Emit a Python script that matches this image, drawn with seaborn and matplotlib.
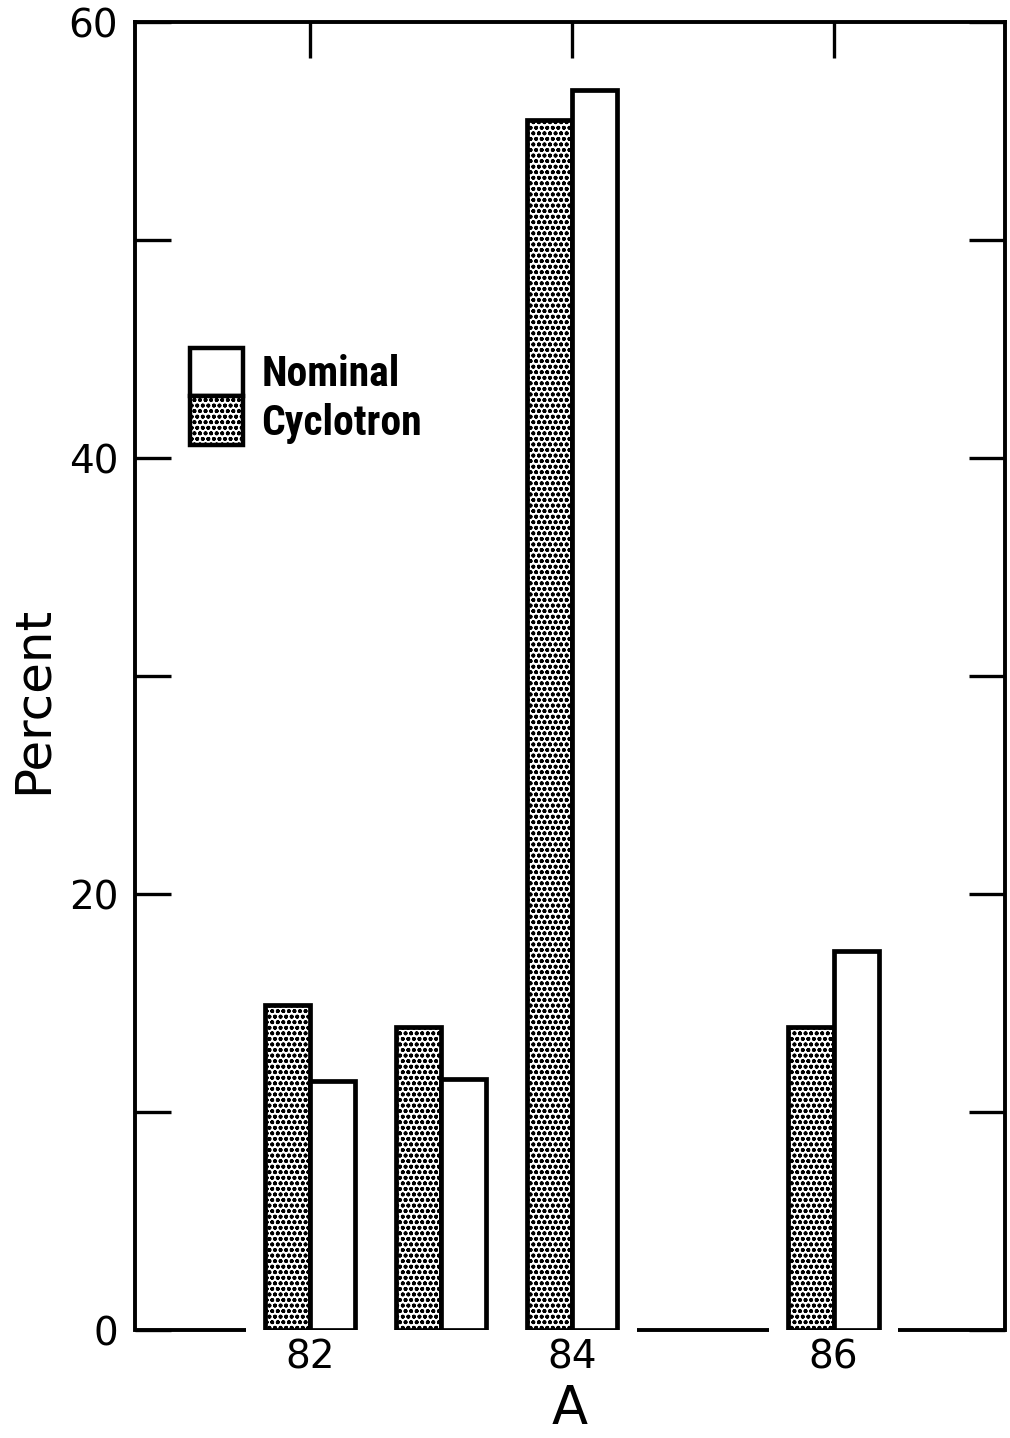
import pandas as pd
import seaborn as sns
import matplotlib.pyplot as plt
from matplotlib.patches import Patch

# --- data ---
mass_number = [82, 83, 84, 86]
cyclotron_pct = [14.9, 13.9, 55.5, 13.9]
nominal_pct = [11.4, 11.5, 56.9, 17.4]
y_major = [0, 20, 40, 60]
y_minor = [10, 30, 50]
x_labelled = [82, 84, 86]

df = pd.DataFrame({
    "A": mass_number * 2,
    "Percent": cyclotron_pct + nominal_pct,
    "source": ["Cyclotron"] * len(mass_number) + ["Nominal"] * len(mass_number),
})

sns.set_style("ticks", {"axes.edgecolor": "black", "text.color": "black",
                        "xtick.color": "black", "ytick.color": "black",
                        "axes.labelcolor": "black"})
plt.rcParams["font.family"] = ["DejaVu Sans"]
plt.rcParams["hatch.linewidth"] = 1.2
STIPPLE = "ooo"

fig = plt.figure(figsize=(10.10, 14.38), dpi=100)
ax = fig.add_axes([0.1337, 0.0751, 0.8613, 0.9096])

sns.barplot(data=df, x="A", y="Percent", hue="source",
            hue_order=["Cyclotron", "Nominal"], native_scale=True,
            palette={"Cyclotron": "white", "Nominal": "white"},
            width=0.69, edgecolor="black", linewidth=3.4,
            errorbar=None, legend=False, ax=ax)

# stipple the cyclotron bars
for bar in ax.containers[0]:
    bar.set_hatch(STIPPLE)

ax.set_xlim(80.66, 87.31)
ax.set_ylim(0, 60)

# axis frame: bottom line broken around the bars
for side in ["left", "right", "top"]:
    ax.spines[side].set_linewidth(2.8)
ax.spines["bottom"].set_visible(False)

edges = sorted((p.get_x(), p.get_x() + p.get_width()) for p in ax.patches)
groups = []
for lo, hi in edges:
    if groups and lo - groups[-1][1] < 1e-6:
        groups[-1][1] = hi
    else:
        groups.append([lo, hi])
gap = 0.15
xmin, xmax = ax.get_xlim()
starts = [xmin] + [g[1] + gap for g in groups]
ends = [g[0] - gap for g in groups] + [xmax]
for s, e in zip(starts, ends):
    if e - s > 0.3 or s == xmin or e == xmax:
        ax.hlines(0, s, e, color="black", linewidth=2.8, clip_on=False)

ax.set_xticks(x_labelled)
ax.set_xticklabels([str(v) for v in x_labelled])
ax.tick_params(axis="x", bottom=False, top=True, direction="in",
               length=26, width=2.4, labelsize=28, pad=6)

ax.set_yticks(y_major)
ax.set_yticks(y_minor, minor=True)
ax.set_yticklabels([str(v) for v in y_major])
ax.tick_params(axis="y", which="both", left=True, right=True,
               direction="in", length=26, width=2.4)
ax.tick_params(axis="y", which="major", labelsize=28, pad=12)

ax.set_xlabel("A", fontsize=38, labelpad=5)
ax.set_ylabel("Percent", fontsize=36)
ax.yaxis.set_label_coords(-0.09, 0.482)

handles = [Patch(facecolor="white", edgecolor="black", linewidth=3.2),
           Patch(facecolor="white", edgecolor="black", linewidth=3.2, hatch=STIPPLE)]
ax.legend(handles, ["Nominal", "Cyclotron"], loc="upper left",
          bbox_to_anchor=(0.063, 0.751), frameon=False,
          prop={"family": ["Roboto Condensed", "Roboto", "DejaVu Sans"],
                "weight": "bold", "size": 30},
          handlelength=1.27, handleheight=1.42, labelspacing=0,
          handletextpad=0.45, borderpad=0, borderaxespad=0)

fig.savefig("out.png", dpi=100)
